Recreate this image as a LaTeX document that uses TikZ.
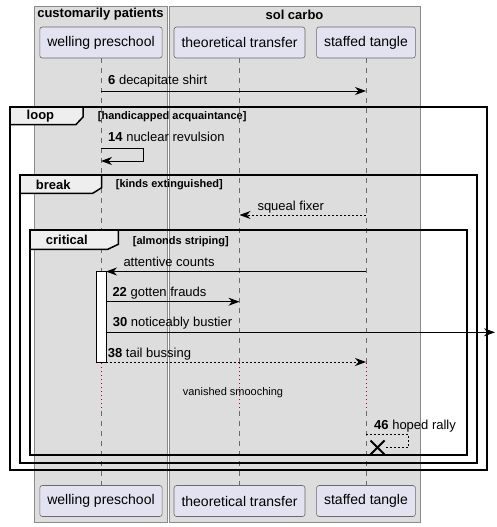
\documentclass[tikz,border=0pt]{standalone}
\usepackage{fontspec}
\setmainfont{Liberation Sans}
\usetikzlibrary{arrows.meta,shapes.misc}

\definecolor{boxgray}{HTML}{DDDDDD}
\definecolor{boxline}{HTML}{8A8A8A}
\definecolor{partfill}{HTML}{E2E2F0}
\definecolor{partline}{HTML}{6A6A6A}
\definecolor{tabfill}{HTML}{EEEEEE}
\definecolor{delayred}{HTML}{A80036}

\tikzstyle{participant} = [draw=partline,fill=partfill,rounded corners=2.5pt,line width=0.6pt,minimum height=31pt,inner xsep=7.5pt,font=\fontsize{14}{16}\selectfont]
\tikzstyle{lifeline} = [draw=partline,line width=0.7pt,dash pattern=on 5pt off 5pt]
\tikzstyle{delay} = [draw=delayred,line width=0.8pt,dash pattern=on 1pt off 3pt]
\tikzstyle{arrow} = [line width=0.9pt,-{Stealth[length=11pt,width=8pt,inset=3.5pt]}]
\tikzstyle{arrowd} = [arrow,dash pattern=on 2pt off 2pt]
\tikzstyle{frame} = [line width=1.5pt]
\tikzstyle{tab} = [line width=1.5pt,fill=tabfill]
\tikzstyle{msg} = [anchor=base west,inner sep=0pt,font=\fontsize{13}{15}\selectfont]
\tikzstyle{kind} = [anchor=base west,inner sep=0pt,font=\bfseries\fontsize{13}{15}\selectfont]
\tikzstyle{guard} = [anchor=west,inner sep=0pt,font=\bfseries\fontsize{11}{13}\selectfont]

\begin{document}
\begin{tikzpicture}[x=1pt,y=-1pt]
\useasboundingbox (0,0) rectangle (496,527);

% Boxes
\draw [draw=boxline,fill=boxgray,line width=0.8pt] (34,6) rectangle (167,522);
\draw [draw=boxline,fill=boxgray,line width=0.8pt] (169,6) rectangle (420,522);
\node [font=\bfseries\fontsize{13}{15}\selectfont] (cpTitle) at (100.5,14.5) {customarily patients};
\node [font=\bfseries\fontsize{13}{15}\selectfont] (scTitle) at (294.5,14.5) {sol carbo};

% Participants
\node [participant] (wpTop) at (101,42.5) {welling preschool};
\node [participant] (ttTop) at (239.5,42.5) {theoretical transfer};
\node [participant] (stTop) at (366,42.5) {staffed tangle};
\node [participant] (wpBot) at (101,501) {welling preschool};
\node [participant] (ttBot) at (239.5,501) {theoretical transfer};
\node [participant] (stBot) at (366,501) {staffed tangle};

% Lifelines, broken by the delay
\coordinate (d1) at (0,363);
\coordinate (d2) at (0,411);
\draw [lifeline] (wpTop) -- (wpTop |- d1) (wpTop |- d2) -- (wpBot);
\draw [lifeline] (ttTop) -- (ttTop |- d1) (ttTop |- d2) -- (ttBot);
\draw [lifeline] (stTop) -- (stTop |- d1) (stTop |- d2) -- (stBot);
\draw [delay] (wpTop |- d1) -- (wpTop |- d2);
\draw [delay] (ttTop |- d1) -- (ttTop |- d2);
\draw [delay] (stTop |- d1) -- (stTop |- d2);
\node [font=\fontsize{11}{13}\selectfont] (dly) at (233,392.5) {vanished smooching};

% 6
\coordinate (m6) at (0,91);
\draw [arrow] (wpTop |- m6) -- (stTop |- m6);
\node [msg] (t6) at (108,84) {\textbf{6} decapitate shirt};

% loop
\draw [frame] (10,107) rectangle (487,470);
\draw [tab] (10,107) -- (83,107) -- (83,117) -- (76,124.5) -- (10,124.5) -- cycle;
\node [kind] (loopK) at (26.5,119.3) {loop};
\node [guard] (loopG) at (97.7,116.2) {[handicapped acquaintance]};

% 14 self message
\coordinate (s14) at (143,148);
\draw [arrow] (wpTop |- s14) -- (s14) -- ++(0,13) -- ++(-42,0);
\node [msg] (t14) at (108,141.5) {\textbf{14} nuclear revulsion};

% break
\draw [frame] (20,175) rectangle (477,463);
\draw [tab] (20,175) -- (101.7,175) -- (101.7,187.7) -- (92.7,193.3) -- (20,193.3) -- cycle;
\node [kind] (breakK) at (35.7,189.3) {break};
\node [guard] (breakG) at (115.7,184.5) {[kinds extinguished]};

% squeal fixer
\coordinate (m16) at (0,215);
\draw [arrowd] (stTop |- m16) -- (ttTop |- m16);
\node [msg] (t16) at (257.3,210.7) {squeal fixer};

% critical
\draw [frame] (30,230) rectangle (467,455);
\draw [tab] (30,230) -- (118.3,230) -- (118.3,244.3) -- (107.7,249.3) -- (30,249.3) -- cycle;
\node [kind] (critK) at (45.7,244.7) {critical};
\node [guard] (critG) at (132.7,241.2) {[almonds striping]};

% activation
\node [draw,fill=white,line width=0.9pt,minimum width=10pt,minimum height=91pt,inner sep=0pt,outer sep=0pt] (act) at (101,316.5) {};

% attentive counts
\coordinate (m18) at (0,271.5);
\draw [arrow] (stTop |- m18) -- (act.east |- m18);
\node [msg] (t18) at (123.3,266.7) {attentive counts};

% 22
\coordinate (m22) at (0,301.7);
\draw [arrow] (act.east |- m22) -- (ttTop |- m22);
\node [msg] (t22) at (112.3,296.7) {\textbf{22} gotten frauds};

% 30, out of the picture
\coordinate (out30) at (495,332.3);
\draw [arrow] (act.east |- out30) -- (out30);
\node [msg] (t30) at (112.7,326.7) {\textbf{30} noticeably bustier};

% 38
\draw [arrowd] (act.south east) -- (stTop |- act.south);
\node [msg] (t38) at (107.7,357.7) {\textbf{38} tail bussing};

% 46 self message and destroy
\coordinate (s46) at (408,434);
\node [cross out,draw,line width=2pt,minimum size=12pt,inner sep=0pt] (stX) at (377.5,447.5) {};
\draw [line width=0.9pt,dash pattern=on 2pt off 2pt] (stTop |- s46) -- (s46) -- (s46 |- stX) -- (stX.east);
\node [msg] (t46) at (374,429) {\textbf{46} hoped rally};

\end{tikzpicture}
\end{document}
